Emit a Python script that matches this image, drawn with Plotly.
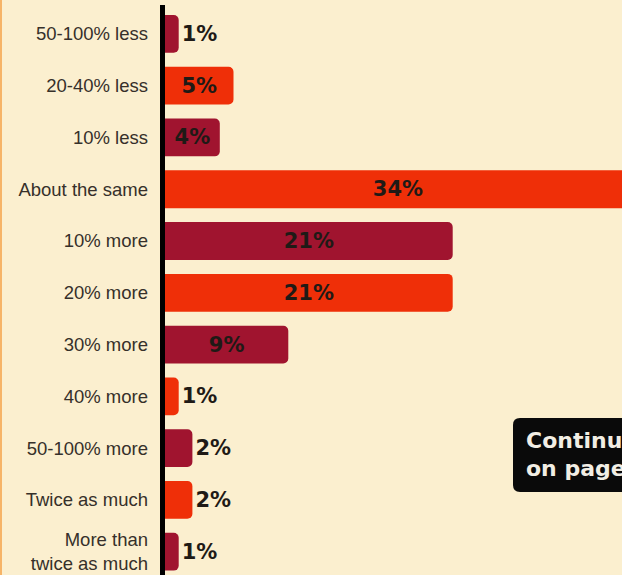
import plotly.graph_objects as go

categories = ["50-100% less", "20-40% less", "10% less", "About the same",
              "10% more", "20% more", "30% more", "40% more",
              "50-100% more", "Twice as much", "More than<br>twice as much"]
values = [1, 5, 4, 34, 21, 21, 9, 1, 2, 2, 1]
box_lines = ["Continu", "on page"]

DARK = "#a0142f"
ORANGE = "#ef2f08"
BG = "#fbefcf"
colors = [DARK if i % 2 == 0 else ORANGE for i in range(len(values))]

W, H = 622, 575
L, T = 165, 8
plot_w = W - L
plot_h = H - T

VAL_FONT = dict(family="DejaVu Sans, Liberation Sans", size=21, color="#1f1a16", weight="bold")

fig = go.Figure(go.Bar(
    x=values, y=categories, orientation="h",
    marker=dict(color=colors, line=dict(width=0), cornerradius=5),
    texttemplate="%{x}%", textposition="auto", insidetextanchor="middle",
    textfont=VAL_FONT, insidetextfont=VAL_FONT, outsidetextfont=VAL_FONT,
    constraintext="none", cliponaxis=True, hoverinfo="skip",
))

# axis line
fig.add_shape(type="line", xref="paper", yref="paper",
              x0=-2.5 / plot_w, x1=-2.5 / plot_w, y0=-0.02, y1=1 + 3 / plot_h,
              line=dict(color="#000000", width=5), layer="above")
# left edge tint
fig.add_shape(type="line", xref="paper", yref="paper",
              x0=-(L - 1.0) / plot_w, x1=-(L - 1.0) / plot_w, y0=-0.05, y1=1.05,
              line=dict(color="#f6b468", width=2), layer="below")

# "Continued on page" box (rounded)
def px(x):
    return (x - L) / plot_w
def py(y):
    return 1 - (y - T) / plot_h
bx0, bx1, by0, by1, r = 513, 640, 418, 492, 7
path = (f"M {px(bx0 + r)},{py(by0)} L {px(bx1 - r)},{py(by0)} "
        f"Q {px(bx1)},{py(by0)} {px(bx1)},{py(by0 + r)} L {px(bx1)},{py(by1 - r)} "
        f"Q {px(bx1)},{py(by1)} {px(bx1 - r)},{py(by1)} L {px(bx0 + r)},{py(by1)} "
        f"Q {px(bx0)},{py(by1)} {px(bx0)},{py(by1 - r)} L {px(bx0)},{py(by0 + r)} "
        f"Q {px(bx0)},{py(by0)} {px(bx0 + r)},{py(by0)} Z")
fig.add_shape(type="path", xref="paper", yref="paper", path=path,
              fillcolor="#0a0a0a", line=dict(width=0), layer="above")
for txt, yc in zip(box_lines, [440, 468]):
    fig.add_annotation(xref="paper", yref="paper", x=px(524), y=py(yc),
                       xanchor="left", yanchor="middle", showarrow=False,
                       text=txt, font=dict(family="DejaVu Sans, Liberation Sans", size=22,
                                           color="#f2eee4", weight="bold"))

fig.update_layout(
    width=W, height=H,
    margin=dict(l=L, r=0, t=T, b=0),
    paper_bgcolor=BG, plot_bgcolor=BG,
    bargap=0.27, showlegend=False,
    xaxis=dict(range=[0, plot_w / 13.7], visible=False, showgrid=False, zeroline=False),
    yaxis=dict(range=[10.45, -0.5], showgrid=False, zeroline=False, ticks="",
               ticklabelstandoff=16,
               tickfont=dict(family="Liberation Sans, Arial", size=18.5, color="#36302a")),
)

fig.write_html("out.html")
